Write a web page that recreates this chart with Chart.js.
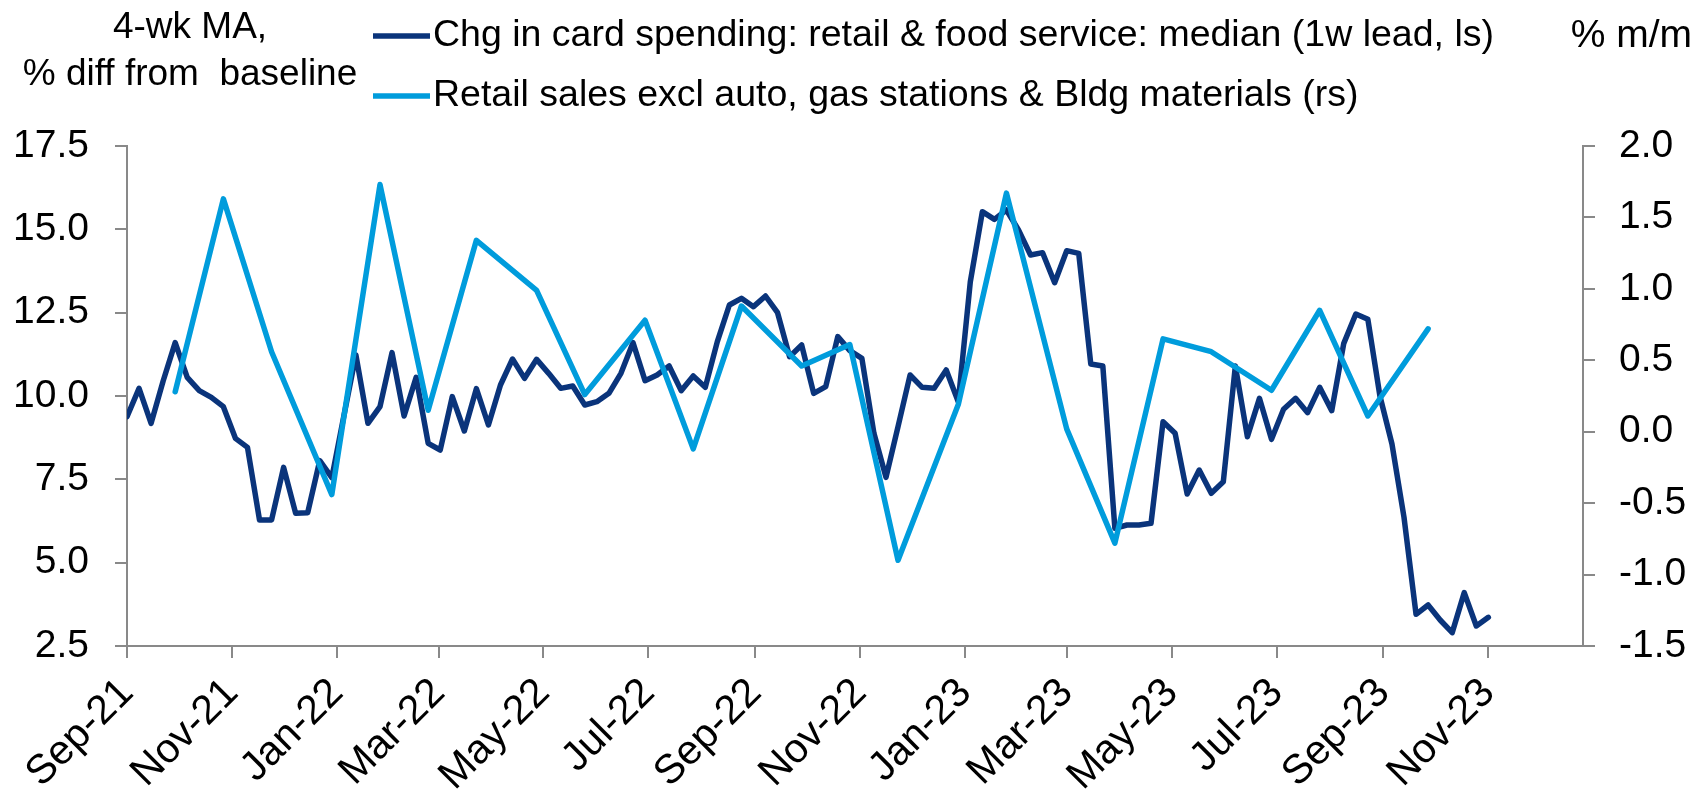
<!DOCTYPE html>
<html>
<head>
<meta charset="utf-8">
<script src="https://cdn.jsdelivr.net/npm/chart.js@4/dist/chart.umd.min.js"></script>
<style>
  html, body { margin: 0; padding: 0; background: #fff; }
  #wrap { width: 1695px; height: 793px; }
</style>
</head>
<body>
<div id="wrap"><canvas id="spendChart" width="1695" height="793"></canvas></div>
<script>
// Card spending: weekly, 4-wk MA, % diff from baseline (left scale)
const cardStart = '2021-09-01';
const cardSpending = [
  9.38, 10.23, 9.18, 10.45, 11.6, 10.56, 10.16, 9.96, 9.68, 8.73,
  8.46, 6.28, 6.28, 7.86, 6.48, 6.5, 8.06, 7.55, 9.4, 11.23,
  9.18, 9.68, 11.3, 9.4, 10.56, 8.58, 8.38, 9.98, 8.95, 10.22,
  9.13, 10.33, 11.11, 10.53, 11.1, 10.68, 10.23, 10.3, 9.73, 9.83,
  10.08, 10.68, 11.6, 10.46, 10.63, 10.9, 10.16, 10.6, 10.26, 11.63,
  12.73, 12.93, 12.68, 13.0, 12.5, 11.18, 11.53, 10.08, 10.28, 11.78,
  11.36, 11.13, 8.88, 7.56, 9.08, 10.63, 10.26, 10.23, 10.78, 9.83,
  13.43, 15.53, 15.3, 15.58, 14.98, 14.23, 14.3, 13.4, 14.36, 14.28,
  10.96, 10.9, 6.03, 6.13, 6.13, 6.18, 9.23, 8.88, 7.06, 7.78,
  7.08, 7.43, 10.9, 8.78, 9.93, 8.7, 9.6, 9.93, 9.5, 10.26,
  9.56, 11.58, 12.46, 12.3, 10.0, 8.56, 6.36, 3.45, 3.73, 3.28,
  2.9, 4.1, 3.1, 3.36
];

// Retail sales ex auto, gas & building materials, % m/m (right scale)
const retailDates = [
  '2021-09-29', '2021-10-27', '2021-11-24', '2021-12-29', '2022-01-26',
  '2022-02-23', '2022-03-23', '2022-04-27', '2022-05-25', '2022-06-29',
  '2022-07-27', '2022-08-24', '2022-09-28', '2022-10-26', '2022-11-23',
  '2022-12-28', '2023-01-25', '2023-03-01', '2023-03-29', '2023-04-26',
  '2023-05-24', '2023-06-28', '2023-07-26', '2023-08-23', '2023-09-27'
];
const retailSales = [
  0.28, 1.63, 0.56, -0.44, 1.73, 0.15, 1.34, 0.99, 0.26, 0.78,
  -0.12, 0.88, 0.46, 0.61, -0.90, 0.19, 1.67, 0.02, -0.78, 0.65,
  0.56, 0.29, 0.85, 0.11, 0.72
];

const tickDates = [
  '2021-09-01', '2021-11-01', '2022-01-01', '2022-03-01', '2022-05-01',
  '2022-07-01', '2022-09-01', '2022-11-01', '2023-01-01', '2023-03-01',
  '2023-05-01', '2023-07-01', '2023-09-01', '2023-11-01'
];
const tickLabels = [
  'Sep-21', 'Nov-21', 'Jan-22', 'Mar-22', 'May-22', 'Jul-22', 'Sep-22',
  'Nov-22', 'Jan-23', 'Mar-23', 'May-23', 'Jul-23', 'Sep-23', 'Nov-23'
];
const axisStart = '2021-09-01';
const axisEnd = '2023-12-26';

const DAY = 86400000;
function dayNum(s) {
  const p = s.split('-').map(Number);
  return (Date.UTC(p[0], p[1] - 1, p[2]) - Date.UTC(2021, 8, 1)) / DAY;
}

const cardPoints = cardSpending.map((v, i) => ({ x: dayNum(cardStart) + i * 7, y: v }));
const retailPoints = retailSales.map((v, i) => ({ x: dayNum(retailDates[i]), y: v }));
const tickDays = tickDates.map(dayNum);

const FONT = 'Arial, "Liberation Sans", sans-serif';
const DARK = '#0a347b';
const LIGHT = '#009cdc';
const AXIS = '#898989';

// titles and the two-row legend above the plot
const headerPlugin = {
  id: 'header',
  afterDraw(chart) {
    const ctx = chart.ctx;
    ctx.save();
    ctx.font = '37px ' + FONT;
    ctx.fillStyle = '#000';
    ctx.textBaseline = 'middle';
    ctx.textAlign = 'center';
    ctx.fillText('4-wk MA,', 190, 28);
    ctx.fillText('% diff from  baseline', 190, 75);
    ctx.textAlign = 'right';
    ctx.font = '39px ' + FONT;
    ctx.fillText('% m/m', 1692, 36);

    ctx.font = '37.5px ' + FONT;
    ctx.textAlign = 'left';
    const rows = [chart.data.datasets[1], chart.data.datasets[0]];
    rows.forEach((ds, i) => {
      const y = 36 + i * 60;
      ctx.strokeStyle = ds.borderColor;
      ctx.lineWidth = 5.5;
      ctx.beginPath();
      ctx.moveTo(373, y);
      ctx.lineTo(430, y);
      ctx.stroke();
      ctx.fillStyle = '#000';
      ctx.fillText(ds.label, 433, y);
    });
    ctx.restore();
  }
};

const ctx = document.getElementById('spendChart').getContext('2d');
new Chart(ctx, {
  type: 'line',
  data: {
    datasets: [
      {
        label: 'Retail sales excl auto, gas stations & Bldg materials (rs)',
        data: retailPoints,
        yAxisID: 'y1',
        borderColor: LIGHT,
        borderWidth: 5.5,
        pointRadius: 0,
        borderJoinStyle: 'round',
        borderCapStyle: 'round',
        order: 0
      },
      {
        label: 'Chg in card spending: retail & food service: median (1w lead, ls)',
        data: cardPoints,
        yAxisID: 'y',
        borderColor: DARK,
        borderWidth: 5.5,
        pointRadius: 0,
        borderJoinStyle: 'round',
        borderCapStyle: 'round',
        order: 1
      }
    ]
  },
  options: {
    responsive: false,
    animation: false,
    layout: { padding: { top: 146, left: 0, right: 0, bottom: 0 } },
    plugins: {
      legend: { display: false },
      tooltip: { enabled: false }
    },
    scales: {
      x: {
        type: 'linear',
        min: dayNum(axisStart),
        max: dayNum(axisEnd),
        afterBuildTicks: scale => { scale.ticks = tickDays.map(v => ({ value: v })); },
        afterFit: scale => { scale.height = 147; },
        grid: { drawOnChartArea: false, color: AXIS, lineWidth: 2, tickLength: 12 },
        border: { color: AXIS, width: 2 },
        ticks: {
          autoSkip: false,
          minRotation: 45,
          maxRotation: 45,
          padding: 11,
          labelOffset: 0,
          color: '#000',
          font: { family: FONT, size: 41 },
          callback: (v, i) => tickLabels[i]
        }
      },
      y: {
        position: 'left',
        min: 2.5,
        max: 17.5,
        afterFit: scale => { scale.width = 127; },
        grid: { drawOnChartArea: false, color: AXIS, lineWidth: 2, tickLength: 12 },
        border: { color: AXIS, width: 2 },
        ticks: {
          stepSize: 2.5,
          padding: 26,
          color: '#000',
          font: { family: FONT, size: 39 },
          callback: v => v.toFixed(1)
        }
      },
      y1: {
        position: 'right',
        min: -1.5,
        max: 2.0,
        afterFit: scale => { scale.width = 112; },
        grid: { drawOnChartArea: false, color: AXIS, lineWidth: 2, tickLength: 12 },
        border: { color: AXIS, width: 2 },
        ticks: {
          stepSize: 0.5,
          padding: 24,
          color: '#000',
          font: { family: FONT, size: 39 },
          callback: v => v.toFixed(1)
        }
      }
    }
  },
  plugins: [headerPlugin]
});
</script>
</body>
</html>
